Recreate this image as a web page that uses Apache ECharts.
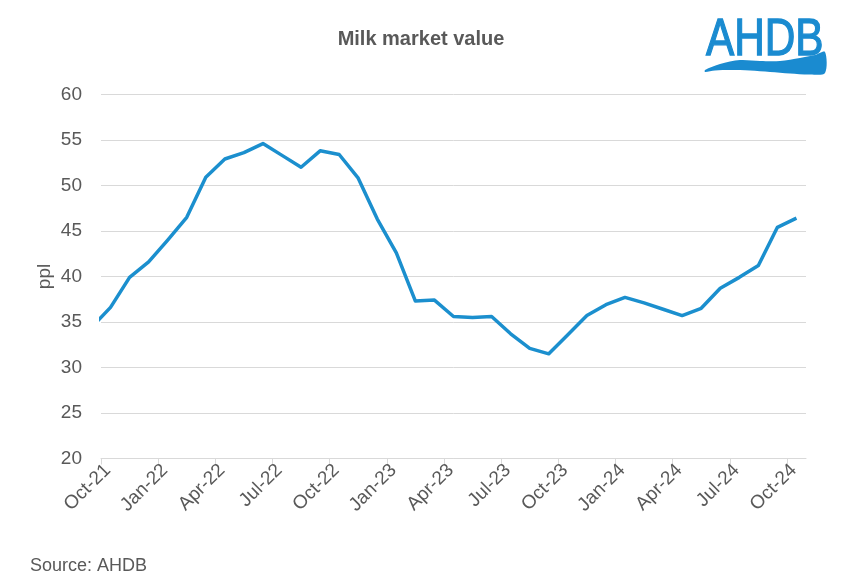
<!DOCTYPE html>
<html><head><meta charset="utf-8">
<script src="https://cdn.jsdelivr.net/npm/echarts@6/dist/echarts.min.js"></script>
<style>html,body{margin:0;padding:0;background:#fff}#c{width:842px;height:587px}</style>
</head><body><div id="c"></div>
<script>
// Monthly milk market value (ppl); Sep-21 lies just left of the visible axis and is clipped
const months = ['Sep-21','Oct-21','Nov-21','Dec-21','Jan-22','Feb-22','Mar-22','Apr-22','May-22','Jun-22','Jul-22','Aug-22','Sep-22','Oct-22','Nov-22','Dec-22','Jan-23','Feb-23','Mar-23','Apr-23','May-23','Jun-23','Jul-23','Aug-23','Sep-23','Oct-23','Nov-23','Dec-23','Jan-24','Feb-24','Mar-24','Apr-24','May-24','Jun-24','Jul-24','Aug-24','Sep-24','Oct-24'];
const values = [34.4,36.6,39.9,41.6,44.0,46.5,50.9,52.9,53.6,54.6,53.3,52.0,53.8,53.4,50.8,46.3,42.6,37.3,37.4,35.6,35.5,35.6,33.7,32.1,31.5,33.6,35.7,36.9,37.7,37.1,36.4,35.7,36.5,38.7,39.9,41.2,45.4,46.4];
const tickLabels = ['Oct-21','Jan-22','Apr-22','Jul-22','Oct-22','Jan-23','Apr-23','Jul-23','Oct-23','Jan-24','Apr-24','Jul-24','Oct-24'];
const yTicks = [20,25,30,35,40,45,50,55,60];

// month slot index: Oct-21 slot starts at 0, points sit at slot centres
const firstVisible = months.indexOf('Oct-21');
const seriesData = values.map((v, i) => [i - firstVisible + 0.5, v]);
const slotCount = months.length - firstVisible;

const chart = echarts.init(document.getElementById('c'), null, {renderer: 'canvas'});
const txt = '#595959';
const ff = 'Liberation Sans, Arial, sans-serif';
chart.setOption({
  animation: false,
  backgroundColor: '#ffffff',
  textStyle: {fontFamily: ff},
  title: {
    text: 'Milk market value', left: 'center', top: 24,
    textStyle: {fontSize: 20, fontWeight: 'bold', color: txt, fontFamily: ff}
  },
  grid: {left: 101, right: 36, top: 94.4, bottom: 128.5, containLabel: false},
  xAxis: {
    type: 'value', min: 0, max: slotCount, interval: 3,
    axisLine: {show: true, lineStyle: {color: '#d9d9d9', width: 1}},
    axisTick: {show: true, length: 6, lineStyle: {color: '#d9d9d9'}},
    splitLine: {show: false},
    axisLabel: {
      rotate: 45, fontSize: 19, color: txt, margin: 2, verticalAlign: 'top',
      showMaxLabel: false,
      formatter: v => (v % 3 === 0 && tickLabels[v / 3]) ? tickLabels[v / 3] : ''
    }
  },
  yAxis: {
    type: 'value', min: yTicks[0], max: yTicks[yTicks.length - 1], interval: 5,
    name: 'ppl', nameLocation: 'middle', nameRotate: 90, nameGap: 47, nameMoveOverlap: false,
    nameTextStyle: {fontSize: 19, color: txt},
    axisLine: {show: false}, axisTick: {show: false},
    splitLine: {show: true, lineStyle: {color: '#d9d9d9', width: 1}},
    axisLabel: {fontSize: 19, color: txt, margin: 19}
  },
  series: [{
    type: 'line', data: seriesData, showSymbol: false, clip: true,
    lineStyle: {color: '#1b8fce', width: 3.5, join: 'round'},
    itemStyle: {color: '#1b8fce'}
  }],
  graphic: [
    {type: 'text', x: 30, y: 557, style: {text: 'Source: AHDB', fontSize: 18, fill: txt, fontFamily: ff}},
    {type: 'text', x: 706, y: 15, scaleX: 0.83, style: {text: 'AHDB', fontSize: 51, fontWeight: 'normal', fill: '#1a8bd0', stroke: '#1a8bd0', lineWidth: 1.3, fontFamily: ff}},
    {type: 'polygon', shape: {smooth: 0.3, points: [[705,70],[720,64],[740,60],[760,61],[780,61],[800,58],[815,55],[825,52],[825,73],[810,74.5],[790,73.5],[770,72],[750,70.5],[730,70],[715,70.5],[705,72]]}, style: {fill: '#1a8bd0'}}
  ]
});
</script>
</body></html>
